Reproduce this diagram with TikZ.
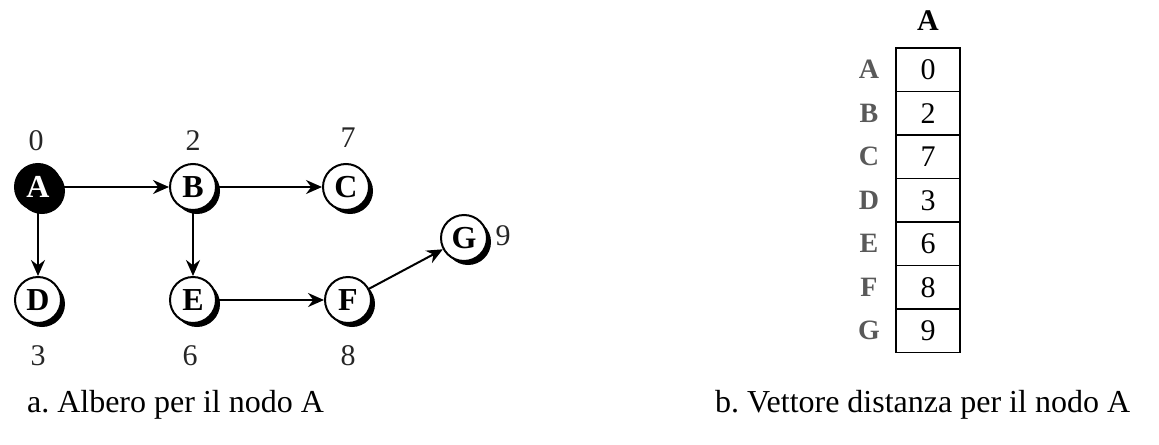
\documentclass[tikz,border=0pt]{standalone}
\usepackage{fontspec}
\setmainfont{Liberation Serif}
\usetikzlibrary{arrows.meta,shadows}
\begin{document}
\begin{tikzpicture}[x=0.5pt,y=-0.5pt,
  vtx/.style={circle,draw,line width=1pt,minimum size=23pt,inner sep=0pt,fill=white,
    font=\fontsize{16}{16}\selectfont\bfseries,
    drop shadow={shadow xshift=2pt,shadow yshift=-2pt,opacity=1,fill=black}},
  src/.style={vtx,fill=black,text=white},
  conn/.style={line width=1pt,-{Stealth[length=8pt,width=7pt]}},
  dist/.style={font=\fontsize{15}{15}\selectfont,text=black!85},
  cell/.style={draw,line width=0.8pt,minimum width=32pt,minimum height=21.75pt,inner sep=0pt,font=\fontsize{15}{15}\selectfont},
  rowlab/.style={font=\fontsize{14}{14}\selectfont\bfseries,text=black!65},
  captxt/.style={font=\fontsize{16}{16}\selectfont}]
\useasboundingbox (0,0) rectangle (1159,444);
% tree
\node[src] (A) at (38,187) {A};
\node[vtx] (B) at (193,187) {B};
\node[vtx] (C) at (346,187) {C};
\node[vtx] (D) at (38,300) {D};
\node[vtx] (E) at (193,300) {E};
\node[vtx] (F) at (348,300) {F};
\node[vtx] (G) at (464,238) {G};
\draw[conn] (A) -- (B);
\draw[conn] (B) -- (C);
\draw[conn] (A) -- (D);
\draw[conn] (B) -- (E);
\draw[conn] (E) -- (F);
\draw[conn] (F) -- (G);
\node[dist] (dA) at (36,141) {0};
\node[dist] (dB) at (193,141) {2};
\node[dist] (dC) at (348,138) {7};
\node[dist] (dD) at (38,356) {3};
\node[dist] (dE) at (190,356) {6};
\node[dist] (dF) at (348,356) {8};
\node[dist] (dG) at (503,236) {9};
% vector
\node[font=\fontsize{15}{15}\selectfont\bfseries] (hdr) at (928,21) {A};
\foreach \l/\v [count=\i from 0] in {A/0,B/2,C/7,D/3,E/6,F/8,G/9}{
  \node[cell] (c\l) at (928,{69.75+43.5*\i}) {\v};
  \node[rowlab] (r\l) at (869,{69.75+43.5*\i}) {\l};
}
% captions
\node[captxt,anchor=west] (capa) at (20,405) {a.\ Albero per il nodo A};
\node[captxt,anchor=west] (capb) at (708,405) {b.\ Vettore distanza per il nodo A};
\end{tikzpicture}
\end{document}
